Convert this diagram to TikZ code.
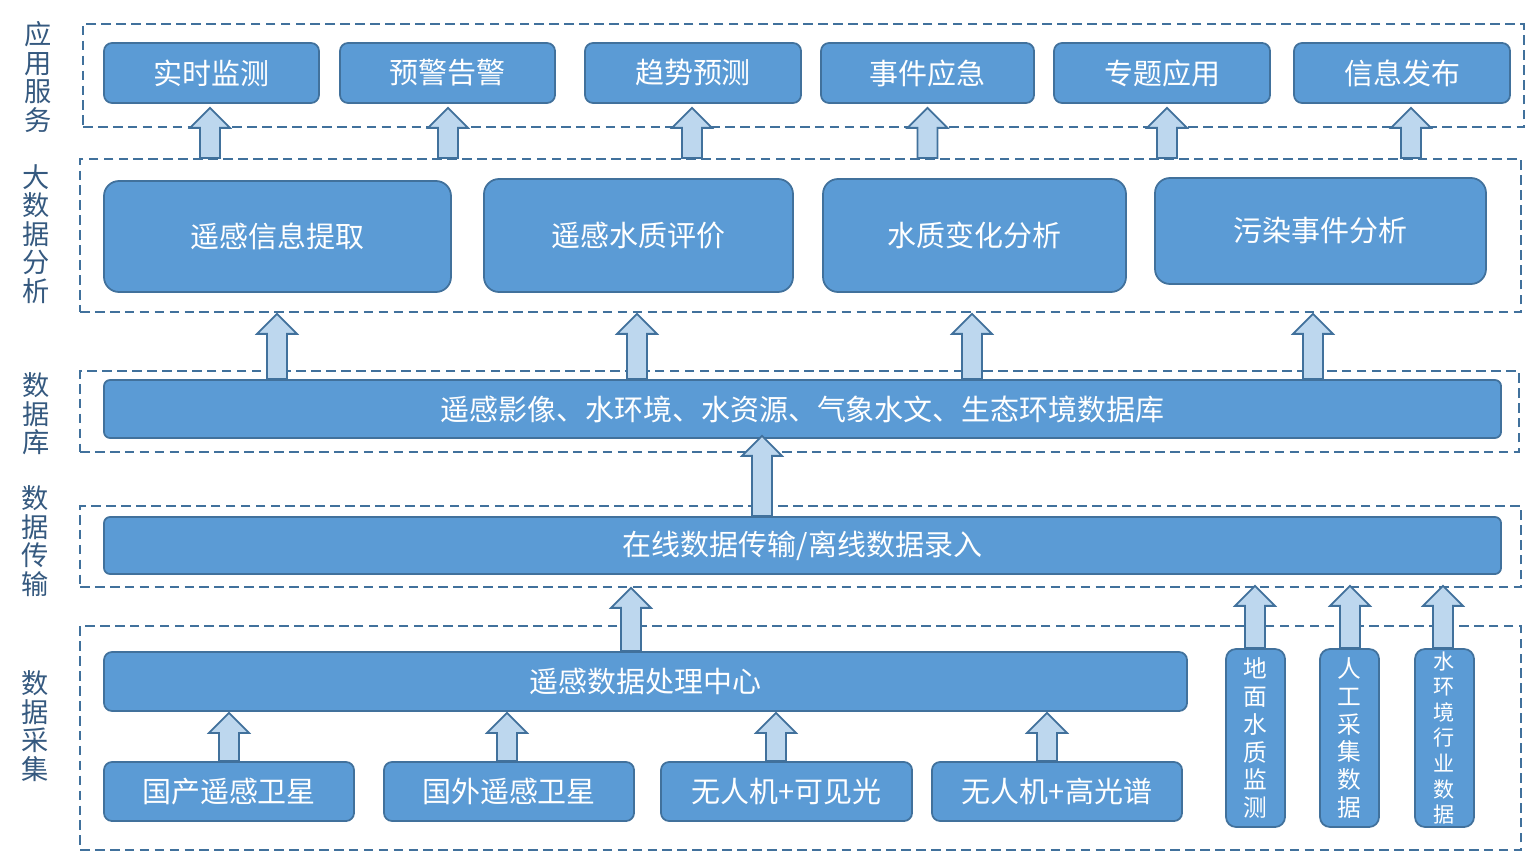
\documentclass[tikz,border=0pt]{standalone}
\usepackage{fontspec}
\setmainfont{Noto Sans CJK SC}
\usetikzlibrary{calc}
\definecolor{boxblue}{HTML}{5B9BD5}
\definecolor{lineblue}{HTML}{41719C}
\definecolor{arrblue}{HTML}{BDD7EE}
\definecolor{labelblue}{HTML}{35597F}

\begin{document}
\begin{tikzpicture}[x=0.02cm, y=-0.02cm,
  box/.style 2 args={draw=lineblue, line width=1pt, fill=boxblue, text=white,
    rounded corners=0.16cm, inner sep=0pt, minimum width=#1*0.02cm, minimum height=#2*0.02cm,
    font=\fontsize{16.5}{19}\selectfont},
  bigbox/.style 2 args={box={#1}{#2}, rounded corners=0.3cm},
  tallbox/.style={box={59}{178}, rounded corners=0.2cm, align=center},
  frm/.style 2 args={draw=lineblue, line width=1pt, dash pattern=on 5.5pt off 3pt,
    inner sep=0pt, minimum width=#1*0.02cm, minimum height=#2*0.02cm},
  layer/.style={text=labelblue, align=center, font=\fontsize{15.5}{16.2}\selectfont},
  fat/.style={draw=lineblue, line width=1pt, fill=arrblue,
    to path={let \p1=(\tikztostart), \p2=(\tikztotarget) in
      (\x2-0.2cm,\y1) -- (\x2+0.2cm,\y1) -- (\x2+0.2cm,\y2-0.4cm) -- (\x2+0.4cm,\y2-0.4cm)
      -- (\x2,\y2) -- (\x2-0.4cm,\y2-0.4cm) -- (\x2-0.2cm,\y2-0.4cm) -- cycle}}]
  \useasboundingbox (0,0) rectangle (1525,851);

  % layers
  \node[frm={1441}{103}] (f1) at (803.5,75.5) {};
  \node[frm={1441}{153}] (f2) at (800.5,235.5) {};
  \node[frm={1439}{81}]  (f3) at (799.5,411.5) {};
  \node[frm={1441}{81}]  (f4) at (800.5,546.5) {};
  \node[frm={1441}{224}] (f5) at (800.5,738) {};

  \node[layer] (L1) at (38,77)  {应\\用\\服\\务};
  \node[layer] (L2) at (36,234) {大\\数\\据\\分\\析};
  \node[layer] (L3) at (36,414) {数\\据\\库};
  \node[layer] (L4) at (35,541) {数\\据\\传\\输};
  \node[layer] (L5) at (35,726) {数\\据\\采\\集};

  % application services
  \node[box={215}{60}] (t1) at (211.5,73) {实时监测};
  \node[box={215}{60}] (t2) at (447.5,73) {预警告警};
  \node[box={216}{60}] (t3) at (693,73)   {趋势预测};
  \node[box={213}{60}] (t4) at (927.5,73) {事件应急};
  \node[box={216}{60}] (t5) at (1162,73)  {专题应用};
  \node[box={216}{60}] (t6) at (1402,73)  {信息发布};

  % analysis
  \node[bigbox={347}{111}] (a1) at (277.5,236.5) {遥感信息提取};
  \node[bigbox={309}{113}] (a2) at (638.5,235.5) {遥感水质评价};
  \node[bigbox={303}{113}] (a3) at (974.5,235.5) {水质变化分析};
  \node[bigbox={331}{106}] (a4) at (1320.5,231) {污染事件分析};

  % database, transfer, processing
  \node[box={1397}{58}, rounded corners=0.12cm] (db)    at (802.5,409)   {遥感影像、水环境、水资源、气象水文、生态环境数据库};
  \node[box={1397}{57}, rounded corners=0.12cm] (trans) at (802.5,545.5) {在线数据传输/离线数据录入};
  \node[box={1083}{59}] (proc) at (645.5,681.5) {遥感数据处理中心};

  % sources
  \node[box={250}{59}] (s1) at (229,791.5)    {国产遥感卫星};
  \node[box={250}{59}] (s2) at (509,791.5)    {国外遥感卫星};
  \node[box={251}{59}] (s3) at (786.5,791.5)  {无人机+可见光};
  \node[box={250}{59}] (s4) at (1057,791.5)   {无人机+高光谱};
  \node[tallbox, font=\fontsize{13.5}{15.9}\selectfont] (v1) at (1255.5,738) {地\\面\\水\\质\\监\\测};
  \node[tallbox, font=\fontsize{13.5}{15.9}\selectfont] (v2) at (1349.5,738) {人\\工\\采\\集\\数\\据};
  \node[tallbox, font=\fontsize{12}{14.6}\selectfont]   (v3) at (1444.5,738) {水\\环\\境\\行\\业\\数\\据};

  % arrows
  \foreach \n/\d in {t1/-1.5, t2/0.5, t3/-1, t4/0, t5/5, t6/9}
    \draw[fat] (f2.north) to ($(\n.south)+(\d,4)$);
  \foreach \n/\d in {a1/-0.5, a2/-1.5, a3/-2.5, a4/-7.5}
    \draw[fat] (db.north) to ($(\n.south |- f2.south)+(\d,1)$);
  \draw[fat] (trans.north) to ($(db.south)+(-40.5,-3)$);
  \draw[fat] (proc.north) to ($(proc.north |- f4.south)+(-14.5,0)$);
  \foreach \n/\d in {s1/0, s2/-2, s3/-10.5, s4/-10}
    \draw[fat] (\n.north) to ($(\n.north |- proc.south)+(\d,1)$);
  \foreach \n/\d in {v1/-0.5, v2/0.5, v3/-1.5}
    \draw[fat] (\n.north) to ($(\n.north |- f4.south)+(\d,-2)$);
\end{tikzpicture}
\end{document}
